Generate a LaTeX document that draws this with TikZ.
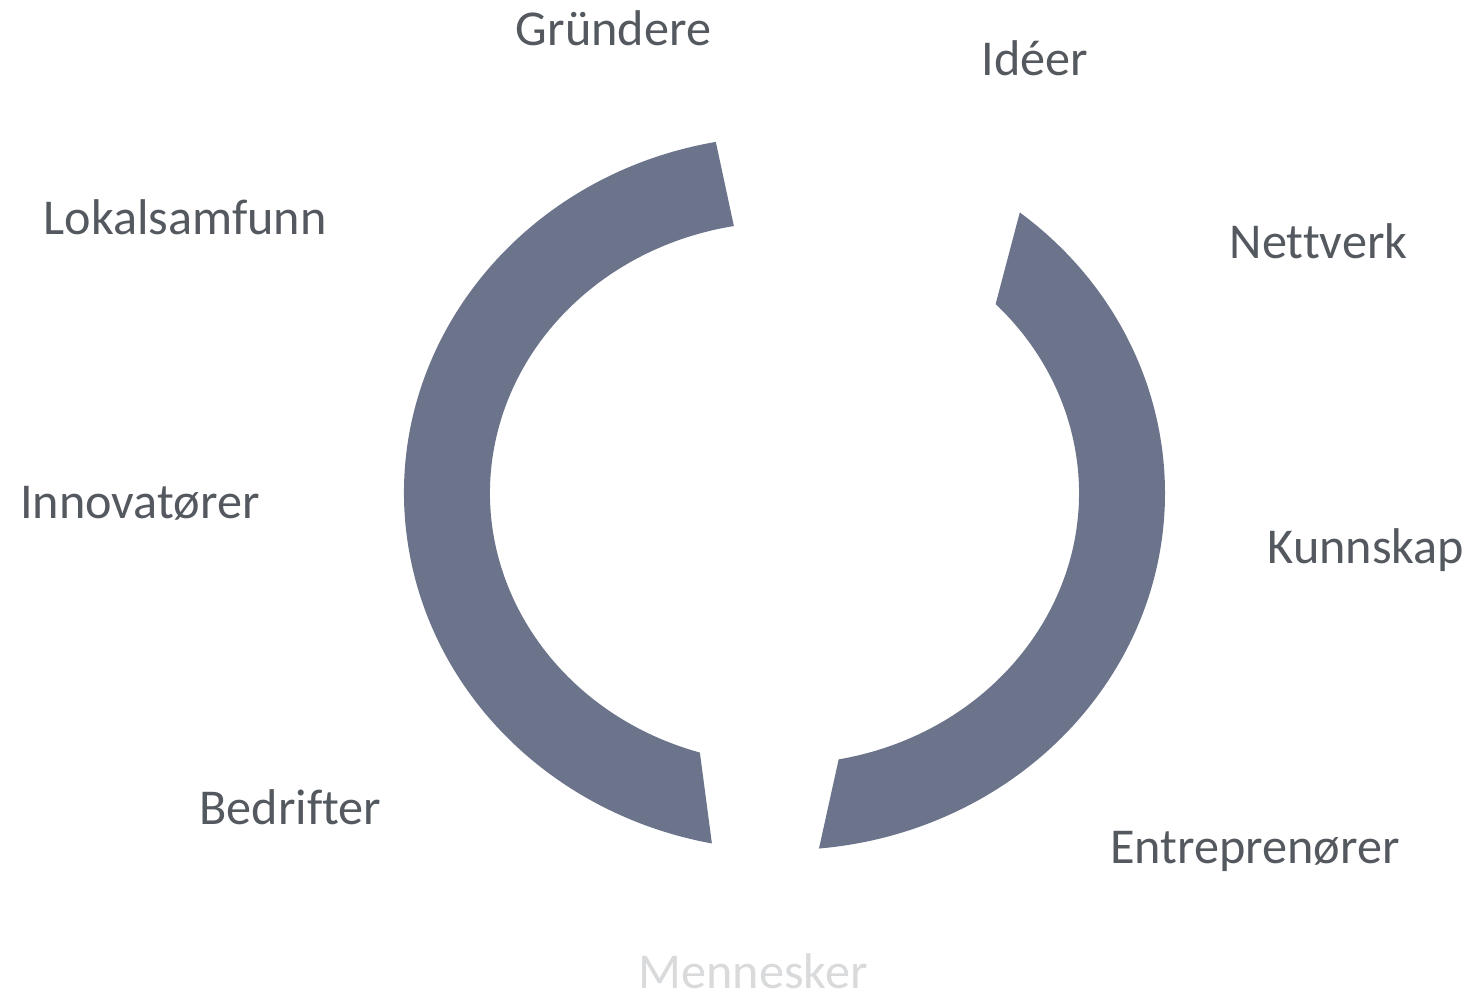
\documentclass[tikz,border=0pt]{standalone}
\usepackage{fontspec}
\setmainfont[Ligatures=NoCommon]{Carlito}
\definecolor{ringgray}{RGB}{108,116,139}
\definecolor{wordgray}{RGB}{84,88,95}
\definecolor{palegray}{RGB}{217,218,220}

\begin{document}
\begin{tikzpicture}[x=1pt, y=1pt]
    \tikzstyle{word}=[
        text = wordgray,
        anchor = base,
        inner sep = 0pt,
        font = \fontsize{50.2}{60}\selectfont
    ]
    \tikzstyle{pale word}=[
        word,
        text = palegray
    ]
    \tikzstyle{ring part}=[
        fill = ringgray,
        draw = none
    ]

    \useasboundingbox (0, 0) rectangle (1473, -997);
    \coordinate (c) at (784.5, -493);

    % left piece of the ring
    \fill[ring part] ([shift={(100.4:380.5 and 357)}]c)
        arc[start angle=100.4, end angle=259, x radius=380.5, y radius=357]
        -- ([shift={(253.3:294.5 and 271)}]c)
        arc[start angle=253.3, end angle=99.9, x radius=294.5, y radius=271]
        -- cycle;
    % right piece of the ring
    \fill[ring part] ([shift={(51.8:380.5 and 357)}]c)
        arc[start angle=51.8, end angle=-84.8, x radius=380.5, y radius=357]
        -- ([shift={(-79.4:294.5 and 271)}]c)
        arc[start angle=-79.4, end angle=44.2, x radius=294.5, y radius=271]
        -- cycle;

	\node[word]      (gruendere) at (613.5, -45)   {Gründere};
	\node[word]      (ideer)     at (1035, -75)    {Idéer};
	\node[word]      (lokal)     at (185, -234)    {Lokalsamfunn};
	\node[word]      (nettverk)  at (1318.5, -258) {Nettverk};
	\node[word]      (innov)     at (140, -518)    {Innovatører};
	\node[word]      (kunnskap)  at (1366, -563)   {Kunnskap};
	\node[word]      (bedrifter) at (290.5, -824)  {Bedrifter};
	\node[word]      (entre)     at (1255, -863)   {Entreprenører};
	\node[pale word] (mennesker) at (753, -988)    {Mennesker};

\end{tikzpicture}
\end{document}
